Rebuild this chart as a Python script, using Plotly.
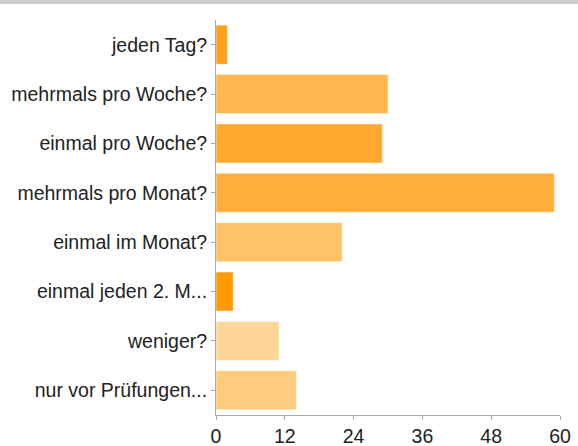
import plotly.graph_objects as go

# answers and counts
categories = ["jeden Tag?", "mehrmals pro Woche?", "einmal pro Woche?",
              "mehrmals pro Monat?", "einmal im Monat?", "einmal jeden 2. M...",
              "weniger?", "nur vor Prüfungen..."]
counts = [2, 30, 29, 59, 22, 3, 11, 14]
bar_colors = ["#FFA11C", "#FFB84F", "#FFA92E", "#FFAE3A",
              "#FFC266", "#FF9A00", "#FFD699", "#FFCB7D"]
x_ticks = [0, 12, 24, 36, 48, 60]

W, H = 578, 446
top, bottom, left, right = 20, 31, 216, 18
plot_h = H - top - bottom

fig = go.Figure()
fig.add_trace(go.Bar(
    x=counts, y=categories, orientation="h",
    marker=dict(color=bar_colors, line=dict(color="rgba(255,255,255,0.45)", width=1)),
    hoverinfo="x+y",
))

# grey strip along the very top of the picture
fig.add_shape(type="rect", xref="paper", yref="paper",
              x0=-left / (W - left - right), x1=1 + right / (W - left - right),
              y0=1 + (top - 4) / plot_h, y1=1 + top / plot_h,
              fillcolor="#CCCCCC", line_width=0, layer="above")

fig.update_layout(
    width=W, height=H,
    margin=dict(l=left, r=right, t=top, b=bottom, pad=0),
    paper_bgcolor="#FFFFFF", plot_bgcolor="#FFFFFF",
    bargap=0.21,
    showlegend=False,
    font=dict(family="Liberation Sans, Arial, sans-serif", size=19.5, color="#222222"),
)
fig.update_xaxes(range=[0, 60], tickvals=x_ticks, showgrid=False, zeroline=False,
                 showline=True, linecolor="#AAAAAA", linewidth=1, automargin=False,
                 ticks="outside", ticklen=4, tickcolor="#AAAAAA",
                 tickfont=dict(size=19.5, color="#222222"))
fig.update_yaxes(autorange="reversed", showgrid=False, zeroline=False,
                 showline=True, linecolor="#AAAAAA", linewidth=1, automargin=False,
                 ticks="outside", ticklen=4, tickcolor="#AAAAAA",
                 tickfont=dict(size=19.5, color="#222222"))

# page body has a default margin; drop it so the chart sits at the top-left corner
fig.write_html("out.html", config={"displayModeBar": False},
               post_script="document.body.style.margin='0px';")
